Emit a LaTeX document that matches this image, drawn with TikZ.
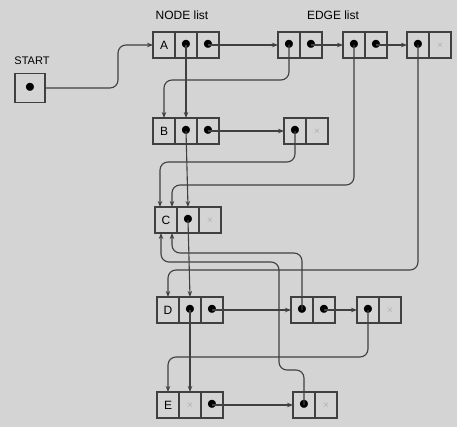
\documentclass[tikz,border=0pt]{standalone}
\usepackage{fontspec}
\setmainfont{Liberation Sans}
\usetikzlibrary{arrows.meta,positioning}

\newcommand{\pdot}{\huge$\bullet$}
\newcommand{\pnil}{\small\color{black!40}$\times$}

\begin{document}
\begin{tikzpicture}[
    x=1pt, y=-1pt,
    >={Stealth[length=6pt,width=4.5pt]},
    cell/.style={rectangle, draw=black!75, line width=1.1pt, minimum width=22pt,
                 minimum height=26pt, inner sep=0pt, outer sep=0pt,
                 font=\fontsize{12}{14}\selectfont},
    ptr/.style={->, line width=1.1pt, draw=black!75, rounded corners=8pt}
]
    \fill[black!17] (0,0) rectangle (457,427);
    \useasboundingbox (0,0) rectangle (457,427);

    % labels
    \node[font=\fontsize{12}{14}\selectfont] at (182,15) {NODE list};
    \node[font=\fontsize{12}{14}\selectfont] at (333,15) {EDGE list};
    \node[font=\fontsize{11}{13}\selectfont] at (32,61) {START};

    % start pointer
    \node[cell, minimum width=30pt, minimum height=29pt] (start) at (30,88) {\pdot};

    % node list
    \node[cell] (A) at (164,45) {A};
    \node[cell, right=0pt of A] (An) {\pdot};
    \node[cell, right=0pt of An] (Ae) {\pdot};

    \node[cell] (B) at (164,131) {B};
    \node[cell, right=0pt of B] (Bn) {\pdot};
    \node[cell, right=0pt of Bn] (Be) {\pdot};

    \node[cell] (C) at (166,220) {C};
    \node[cell, right=0pt of C] (Cn) {\pdot};
    \node[cell, right=0pt of Cn] (Ce) {\pnil};

    \node[cell] (D) at (168,310) {D};
    \node[cell, right=0pt of D] (Dn) {\pdot};
    \node[cell, right=0pt of Dn] (De) {\pdot};

    \node[cell] (E) at (168,405) {E};
    \node[cell, right=0pt of E] (En) {\pnil};
    \node[cell, right=0pt of En] (Ee) {\pdot};

    % edge lists
    \node[cell] (a1) at (289,45) {\pdot};
    \node[cell, right=0pt of a1] (a1n) {\pdot};
    \node[cell] (a2) at (354,45) {\pdot};
    \node[cell, right=0pt of a2] (a2n) {\pdot};
    \node[cell] (a3) at (418,45) {\pdot};
    \node[cell, right=0pt of a3] (a3n) {\pnil};

    \node[cell] (b1) at (295,131) {\pdot};
    \node[cell, right=0pt of b1] (b1n) {\pnil};

    \node[cell] (d1) at (302,310) {\pdot};
    \node[cell, right=0pt of d1] (d1n) {\pdot};
    \node[cell] (d2) at (368,310) {\pdot};
    \node[cell, right=0pt of d2] (d2n) {\pnil};

    \node[cell] (e1) at (304,405) {\pdot};
    \node[cell, right=0pt of e1] (e1n) {\pnil};

    % node chain
    \draw[ptr] (start.east) -| (118,45) -- (A.west);
    \draw[ptr] (An.center) -- (Bn.north);
    \draw[ptr] (Bn.center) -- (Cn.north);
    \draw[ptr] (Cn.center) -- (Dn.north);
    \draw[ptr] (Dn.center) -- (En.north);

    % edge chains
    \draw[ptr] (Ae.center) -- (a1.west);
    \draw[ptr] (a1n.center) -- (a2.west);
    \draw[ptr] (a2n.center) -- (a3.west);
    \draw[ptr] (Be.center) -- (b1.west);
    \draw[ptr] (De.center) -- (d1.west);
    \draw[ptr] (d1n.center) -- (d2.west);
    \draw[ptr] (Ee.center) -- (e1.west);

    % edges back to the node list
    \draw[ptr] (a1.center) -- ++(0,35) -| (B.north);
    \draw[ptr] (b1.center) -- ++(0,31) -| ([xshift=-6pt]C.north);
    \draw[ptr] (a2.center) -- ++(0,140) -| ([xshift=6pt]C.north);
    \draw[ptr] (a3.center) -- ++(0,225) -| (D.north);
    \draw[ptr] (d1.center) -- ++(0,-57) -| ([xshift=6pt]C.south);
    \draw[ptr] (e1.center) -- ++(0,-35) -| (279,262) -| ([xshift=-5pt]C.south);
    \draw[ptr] (d2.center) -- ++(0,47) -| (E.north);
\end{tikzpicture}
\end{document}
